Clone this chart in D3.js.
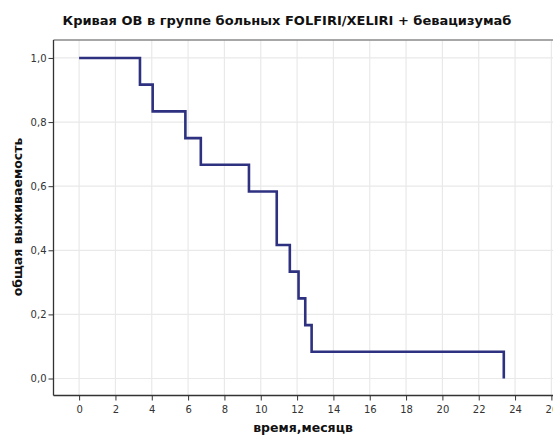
<!DOCTYPE html>
<html>
<head>
<meta charset="utf-8">
<script src="https://cdn.jsdelivr.net/npm/d3@7"></script>
<style>
  html, body { margin: 0; padding: 0; background: #fff; }
  svg { display: block; }
  text { font-family: "DejaVu Sans", sans-serif; }
</style>
</head>
<body>
<svg id="chart" width="553" height="436"></svg>
<script>
// Kaplan–Meier survival estimate (n = 12): event times in months and survival after each step
const stepTimes = [0, 3.35, 4.05, 5.85, 6.7, 9.35, 10.88, 11.6, 12.08, 12.45, 12.8, 23.38];
const survival  = [1, 11/12, 10/12, 9/12, 8/12, 7/12, 5/12, 4/12, 3/12, 2/12, 1/12, 0];

const xTicks = [0, 2, 4, 6, 8, 10, 12, 14, 16, 18, 20, 22, 24, 26];
const yTicks = [0, 0.2, 0.4, 0.6, 0.8, 1.0];

const titleText = "Кривая ОВ в группе больных FOLFIRI/XELIRI + бевацизумаб";
const xLabel = "время,месяцв";
const yLabel = "общая выживаемость";

const svg = d3.select("#chart");
const m = { left: 53.5, top: 40, right: 577, bottom: 395.5 };

const x = d3.scaleLinear().domain([-1.41, 27.41]).range([m.left, m.right]);
const y = d3.scaleLinear().domain([-0.053, 1.056]).range([m.bottom, m.top]);

// grid
const grid = svg.append("g");
grid.selectAll("line.gx").data(xTicks).join("line")
  .attr("x1", d => x(d)).attr("x2", d => x(d))
  .attr("y1", m.top).attr("y2", m.bottom)
  .attr("stroke", "#e9e9e9").attr("stroke-width", 1.2);
grid.selectAll("line.gy").data(yTicks).join("line")
  .attr("x1", m.left).attr("x2", m.right)
  .attr("y1", d => y(d)).attr("y2", d => y(d))
  .attr("stroke", "#e9e9e9").attr("stroke-width", 1.2);

// top frame line
svg.append("line")
  .attr("x1", m.left).attr("x2", 553)
  .attr("y1", m.top).attr("y2", m.top)
  .attr("stroke", "#8a8a8a").attr("stroke-width", 1.5);

// axes
const fmt = d3.format(".1f");
const yAxis = d3.axisLeft(y).tickValues(yTicks).tickSize(5).tickPadding(2)
  .tickFormat(d => fmt(d).replace(".", ","));
const xAxis = d3.axisBottom(x).tickValues(xTicks).tickSize(5).tickPadding(5)
  .tickFormat(d3.format("d"));

const gy = svg.append("g").attr("transform", `translate(${m.left},0)`).call(yAxis);
const gx = svg.append("g").attr("transform", `translate(0,${m.bottom})`).call(xAxis);
[gx, gy].forEach(g => {
  g.select(".domain").attr("stroke", "#333").attr("stroke-width", 1.3);
  g.selectAll(".tick line").attr("stroke", "#333").attr("stroke-width", 1);
  g.selectAll(".tick text").attr("fill", "#333").attr("font-size", 10)
    .attr("font-family", "DejaVu Sans, sans-serif");
});
gy.select(".domain").attr("d", `M0,${m.top}V${m.bottom}`);
gx.select(".domain").attr("d", `M${m.left},0H${m.right}`);

// survival step curve
const pts = stepTimes.map((t, i) => [t, survival[i]]);
const line = d3.line().x(d => x(d[0])).y(d => y(d[1])).curve(d3.curveStepAfter);
svg.append("path")
  .datum(pts)
  .attr("d", line)
  .attr("fill", "none")
  .attr("stroke", "#2d3180")
  .attr("stroke-width", 2.6)
  .attr("stroke-linejoin", "miter")
  .attr("stroke-linecap", "butt");

// titles
svg.append("text")
  .attr("x", 287).attr("y", 25)
  .attr("text-anchor", "middle")
  .attr("font-size", 13).attr("font-weight", "bold")
  .attr("fill", "#111")
  .text(titleText);

svg.append("text")
  .attr("x", 303).attr("y", 432)
  .attr("text-anchor", "middle")
  .attr("font-size", 12.5).attr("font-weight", "bold")
  .attr("fill", "#111")
  .text(xLabel);

svg.append("text")
  .attr("transform", "translate(22,217) rotate(-90)")
  .attr("text-anchor", "middle")
  .attr("font-size", 12.5).attr("font-weight", "bold")
  .attr("fill", "#111")
  .text(yLabel);
</script>
</body>
</html>
